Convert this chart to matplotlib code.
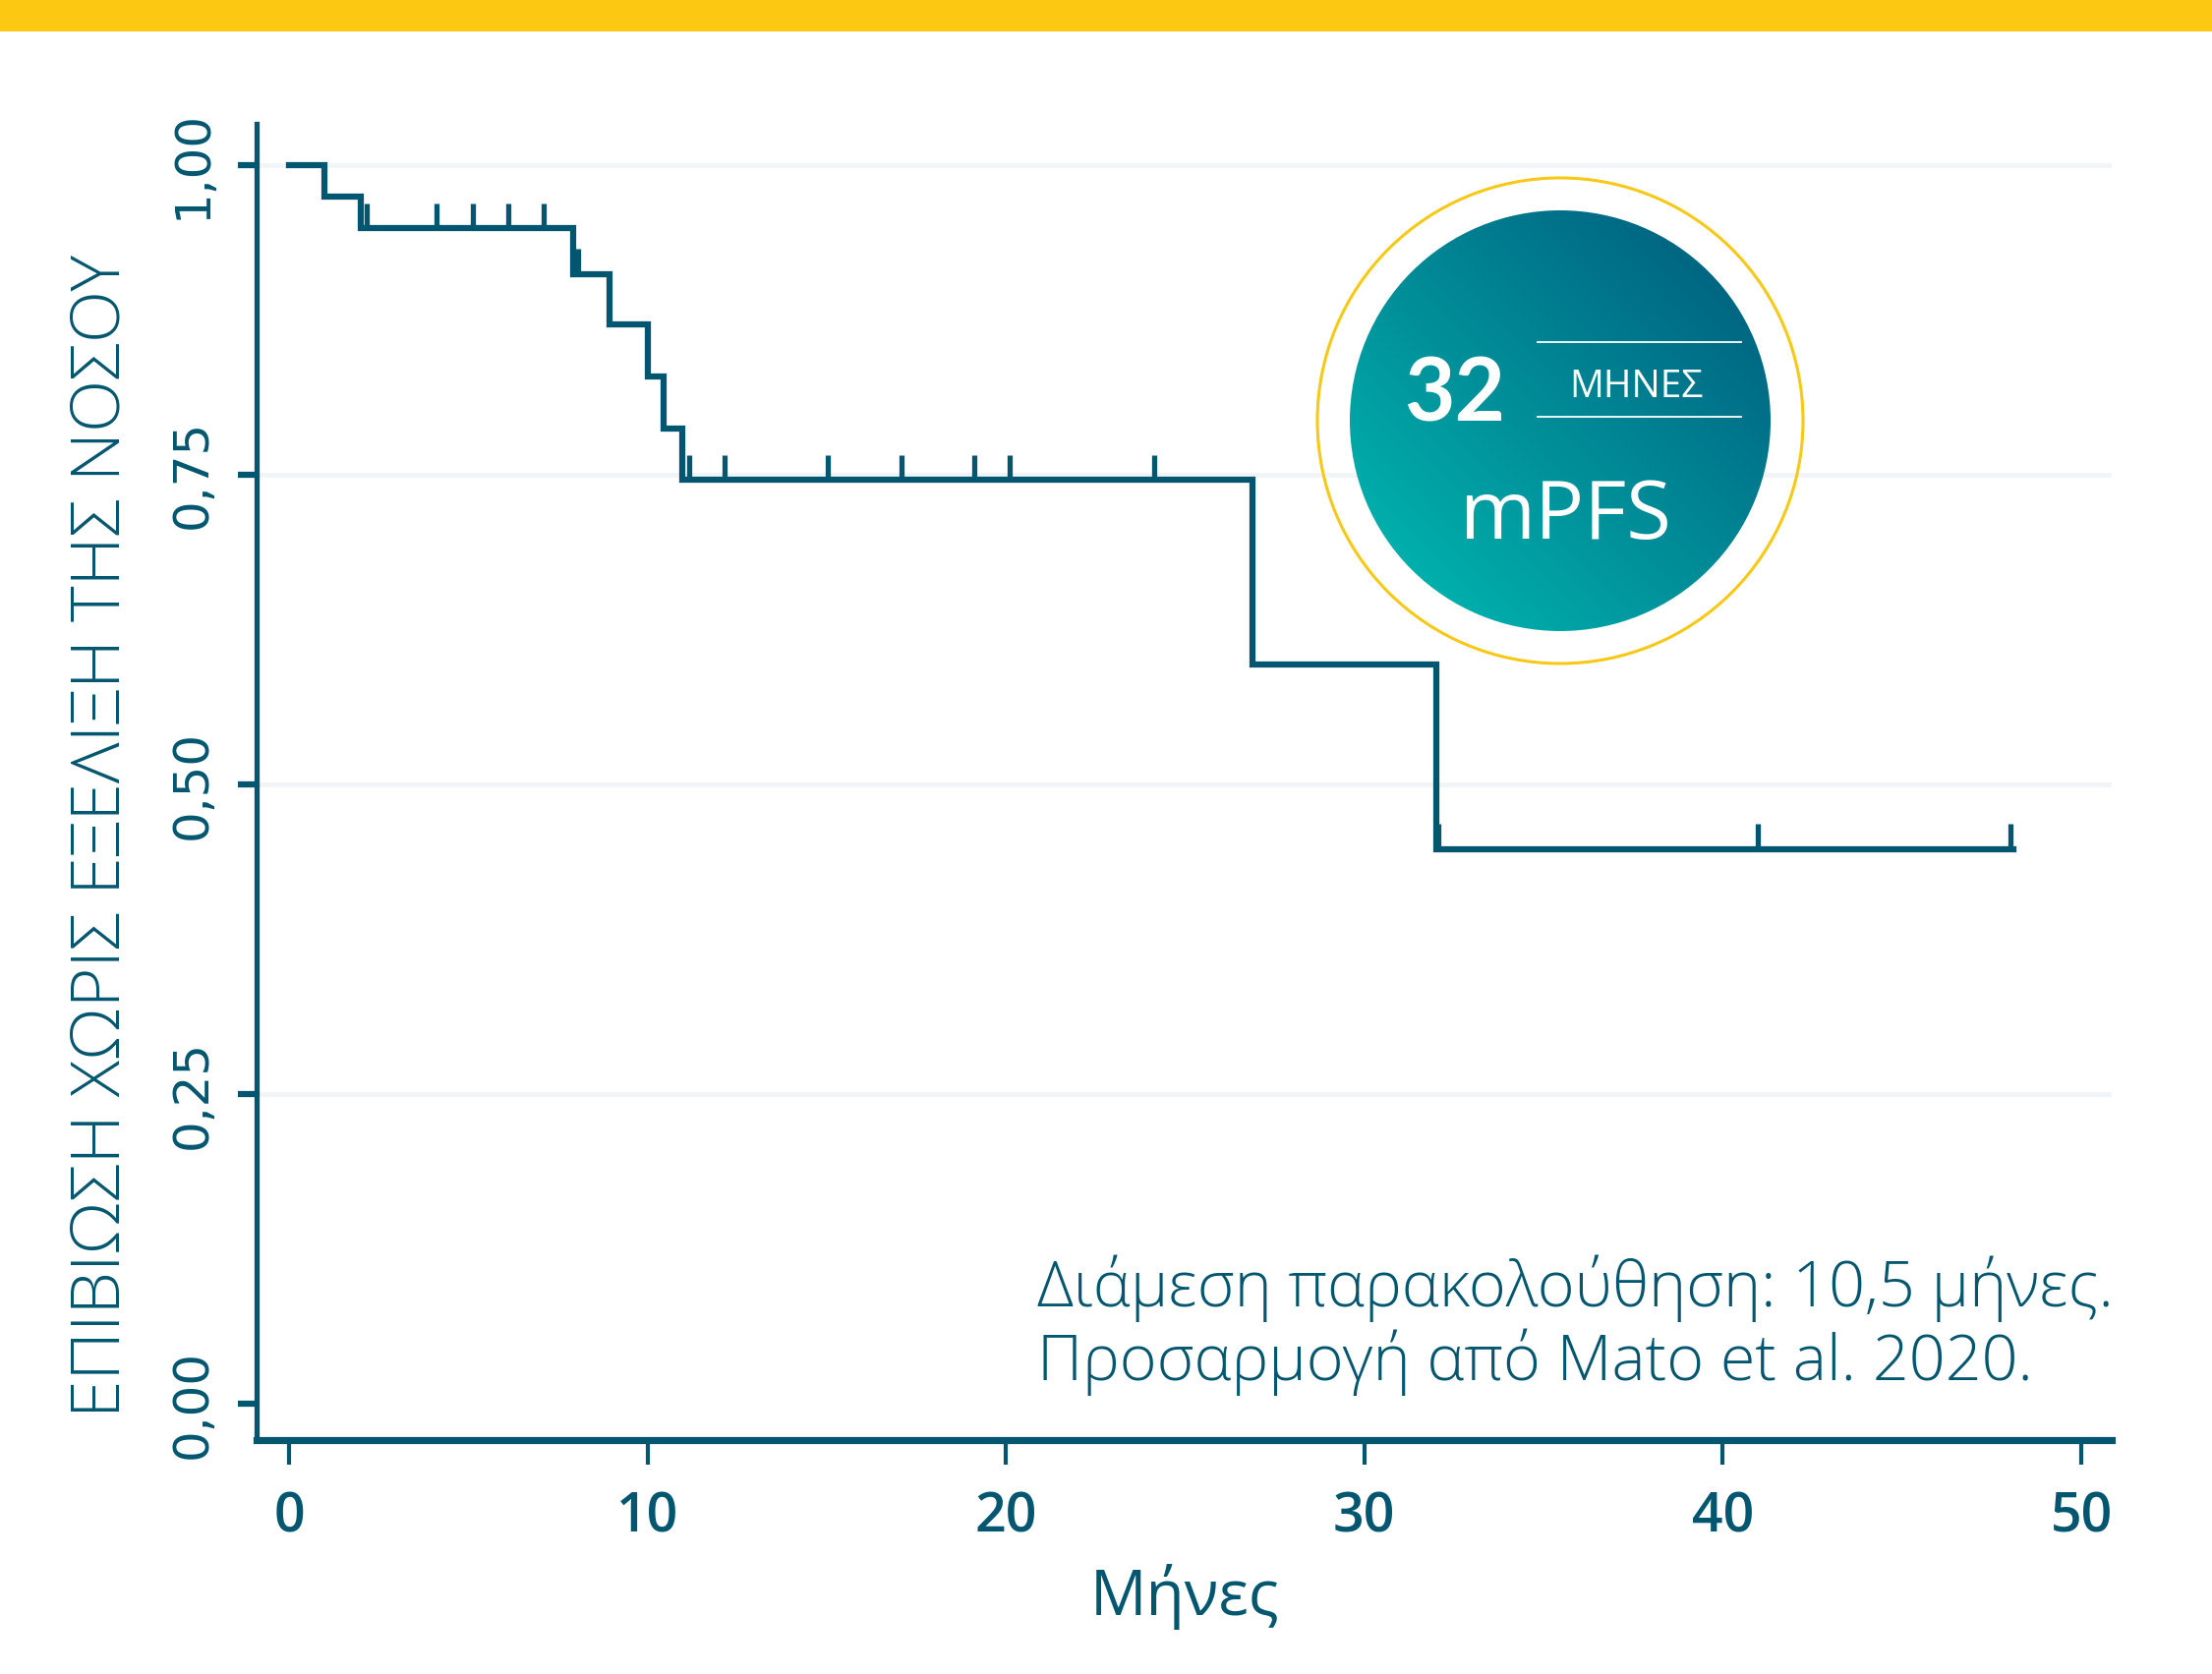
import numpy as np
import matplotlib
matplotlib.use('agg')
import matplotlib.pyplot as plt
from matplotlib.patches import Circle, Rectangle

# Kaplan-Meier steps
times = [0, 1.0, 2.0, 7.93, 8.94, 10.0, 10.45, 10.97, 26.87, 32.0]
surv = [1.0, 0.974, 0.949, 0.912, 0.871, 0.829, 0.787, 0.746, 0.597, 0.448]
t_end = 48.1
censored = [2.17, 4.11, 5.12, 6.12, 7.1, 8.07, 11.15, 12.15, 15.02, 17.09,
            19.12, 20.1, 24.13, 32.06, 40.98, 48.02]

x_ticks = [0, 10, 20, 30, 40, 50]
y_ticks = [0.0, 0.25, 0.5, 0.75, 1.0]
y_ticklabels = ['0,00', '0,25', '0,50', '0,75', '1,00']

ylabel = 'ΕΠΙΒΙΩΣΗ ΧΩΡΙΣ ΕΞΕΛΙΞΗ ΤΗΣ ΝΟΣΟΥ'
xlabel = 'Μήνες'
note_lines = ['Διάμεση παρακολούθηση: 10,5 μήνες.',
              'Προσαρμογή από Mato et al. 2020.']
badge_value = '32'
badge_unit = 'ΜΗΝΕΣ'
badge_label = 'mPFS'

TEAL = '#03566F'
GRID = '#F1F5F8'
YELLOW = '#FCC812'
FONT = ['Open Sans', 'DejaVu Sans']

W, H = 2250, 1703
fig = plt.figure(figsize=(W / 100, H / 100), dpi=100)
fig.patch.set_facecolor('white')

# yellow band at the top
fig.patches.append(Rectangle((0, 1 - 32 / H), 1, 32 / H, transform=fig.transFigure,
                             facecolor=YELLOW, edgecolor='none'))

ax = fig.add_axes([261 / W, 1 - 1465 / H, (2148 - 261) / W, (1465 - 126) / H])
ax.set_xlim(-0.905, 50.85)
ax.set_ylim(-0.029, 1.033)

for yv in y_ticks[1:]:
    ax.axhline(yv, color=GRID, lw=3.6, zorder=0)

ax.step(times + [t_end], surv + [surv[-1]], where='post', color=TEAL, lw=4.5,
        solid_joinstyle='miter', zorder=3)

# censor marks sit on the current step level
idx = np.searchsorted(times, censored, side='right') - 1
levels = np.array(surv)[idx]
ax.vlines(censored, levels, levels + 0.02, color=TEAL, lw=3.8, zorder=3)

for s in ['top', 'right']:
    ax.spines[s].set_visible(False)
ax.spines['left'].set_linewidth(3.8)
ax.spines['left'].set_color(TEAL)
ax.spines['bottom'].set_linewidth(5.2)
ax.spines['bottom'].set_color(TEAL)

ax.set_xticks(x_ticks)
ax.set_xticklabels([str(v) for v in x_ticks], family=FONT,
                   fontweight='semibold', fontsize=40, color=TEAL)
ax.tick_params(axis='x', length=18, width=3, color=TEAL, pad=19)
ax.set_yticks(y_ticks)
ax.set_yticklabels(y_ticklabels, fontsize=36, color=TEAL, rotation=90, va='center')
ax.tick_params(axis='y', length=14, width=4.5, color=TEAL, pad=16)

for yy, line in zip([0.079, 0.019], note_lines):
    ax.text(20.87, yy, line, fontsize=46.5, color=TEAL, fontweight='light',
            family=FONT, ha='left', va='baseline')

fig.text(104 / W, 1 - 850 / H, ylabel, rotation=90, ha='center', va='center',
         fontsize=50, color=TEAL, fontweight='light', family=FONT)
fig.text(1205 / W, 1 - 1624 / H, xlabel, ha='center', va='center',
         fontsize=46, color=TEAL, family=FONT)

# mPFS badge
cx, cy, half = 1587, 428, 262
bx = fig.add_axes([(cx - half) / W, 1 - (cy + half) / H, 2 * half / W, 2 * half / H])
bx.set_xlim(-half, half)
bx.set_ylim(-half, half)
bx.set_aspect('equal')
bx.axis('off')

gx, gy = np.meshgrid(np.linspace(-1, 1, 300), np.linspace(-1, 1, 300))
grad = (gx + gy) / 2
cmap = matplotlib.colors.LinearSegmentedColormap.from_list('badge', ['#00BEB4', '#00577A'])
im = bx.imshow(grad, cmap=cmap, extent=(-214, 214, -214, 214), origin='lower', zorder=1)
clip = Circle((0, 0), 214, transform=bx.transData)
im.set_clip_path(clip)
bx.add_patch(Circle((0, 0), 247, fill=False, edgecolor='#F7C815', lw=2.2, zorder=2))

bx.text(-107, 25, badge_value, ha='center', va='center', fontsize=64, fontweight='bold',
        color='white', family=['Lato', 'DejaVu Sans'], zorder=3)
bx.text(77, 34, badge_unit, ha='center', va='center', fontsize=28,
        color='white', family=FONT, zorder=3)
bx.plot([-23, 184], [80, 80], color='white', lw=1.3, zorder=3)
bx.plot([-23, 184], [4, 4], color='white', lw=1.3, zorder=3)
bx.text(6, -99, badge_label, ha='center', va='center', fontsize=60,
        color='white', family=FONT, zorder=3)

fig.savefig('out.png', dpi=100, facecolor='white')
